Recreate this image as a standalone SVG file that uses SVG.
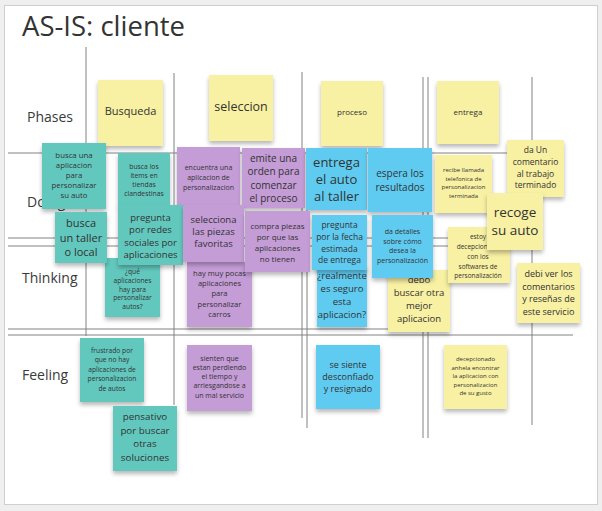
<svg xmlns="http://www.w3.org/2000/svg" width="602" height="511" viewBox="0 0 602 511">
  <defs>
    <filter id="sh" x="-20%" y="-20%" width="140%" height="150%">
      <feDropShadow dx="0" dy="3" stdDeviation="2" flood-color="#000" flood-opacity="0.28"/>
    </filter>
    <style>
      .note rect { filter: url(#sh); }
      .y { fill: #f8f0a2; }
      .t { fill: #62c8be; }
      .p { fill: #c49cd6; }
      .b { fill: #5fcbf1; }
      text { font-family: "Open Sans", "Noto Sans", "DejaVu Sans", sans-serif; fill: #333; }
      .note text { text-anchor: middle; }
      .row { font-size: 14px; fill: #3a3a3a; }
      .grid line { stroke: #828282; stroke-width: 1; }
    </style>
  </defs>

  <!-- board background and frame -->
  <rect x="0" y="0" width="602" height="511" fill="#efefef"/>
  <rect x="4.5" y="5.5" width="593" height="499" fill="#ffffff" stroke="#cfcfcf"/>

  <text x="22" y="36" font-size="27.5" fill="#222">AS-IS: cliente</text>

  <!-- swimlane grid -->
  <g id="grid" class="grid">
    <line x1="8" y1="153" x2="540" y2="153"/>
    <line x1="8" y1="238" x2="520" y2="238"/>
    <line x1="8" y1="246" x2="520" y2="246"/>
    <line x1="8" y1="329" x2="430" y2="329"/>
    <line x1="8" y1="335" x2="573" y2="335"/>
    <line x1="86" y1="47" x2="86" y2="336"/>
    <line x1="174" y1="73" x2="174" y2="405"/>
    <line x1="302" y1="72" x2="302" y2="418"/>
    <line x1="307" y1="150" x2="307" y2="428"/>
    <line x1="423" y1="77" x2="423" y2="438"/>
    <line x1="428" y1="77" x2="428" y2="438"/>
    <line x1="532" y1="77" x2="532" y2="425"/>
  </g>

  <!-- row labels -->
  <g id="labels">
    <text class="row" x="27" y="122">Phases</text>
    <text class="row" x="27" y="207">Doing</text>
    <text class="row" x="22" y="283">Thinking</text>
    <text class="row" x="22" y="380">Feeling</text>
  </g>

  <!-- phases -->
  <g id="ph-busqueda" class="note"><rect class="y" x="98" y="80" width="65" height="66"/>
    <text font-size="11"><tspan x="130.5" y="115">Busqueda</tspan></text></g>
  <g id="ph-seleccion" class="note"><rect class="y" x="209" y="75" width="64" height="66"/>
    <text font-size="12.5"><tspan x="241" y="111">seleccion</tspan></text></g>
  <g id="ph-proceso" class="note"><rect class="y" x="321" y="81" width="62" height="65"/>
    <text font-size="8"><tspan x="352" y="115">proceso</tspan></text></g>
  <g id="ph-entrega" class="note"><rect class="y" x="437" y="81" width="62" height="63"/>
    <text font-size="8"><tspan x="468" y="115">entrega</tspan></text></g>

  <g id="do-comentario" class="note"><rect class="y" x="507" y="140" width="57" height="57"/>
    <text font-size="8.5"><tspan x="535.5" y="153">da Un</tspan><tspan x="535.5" y="165">comentario</tspan><tspan x="535.5" y="176.5">al trabajo</tspan><tspan x="535.5" y="188">terminado</tspan></text></g>

  <!-- thinking (partly under doing notes) -->
  <g id="th-que" class="note"><rect class="t" x="105" y="258" width="55" height="59"/>
    <text font-size="6.7"><tspan x="132.5" y="274">¿qué</tspan><tspan x="132.5" y="283">aplicaciones</tspan><tspan x="132.5" y="291.7">hay para</tspan><tspan x="132.5" y="300.4">personalizar</tspan><tspan x="132.5" y="309">autos?</tspan></text></g>
  <g id="th-pocas" class="note"><rect class="p" x="187" y="262" width="65" height="65"/>
    <text font-size="7.6"><tspan x="219.5" y="276">hay muy pocas</tspan><tspan x="219.5" y="286">aplicaciones</tspan><tspan x="219.5" y="296">para</tspan><tspan x="219.5" y="306.5">personalizar</tspan><tspan x="219.5" y="317">carros</tspan></text></g>
  <g id="th-seguro" class="note"><rect class="b" x="317" y="265" width="50" height="62"/>
    <text font-size="9.5"><tspan x="342" y="279">¿realmente</tspan><tspan x="342" y="292">es seguro</tspan><tspan x="342" y="305">esta</tspan><tspan x="342" y="317.5">aplicacion?</tspan></text></g>
  <g id="th-otra" class="note"><rect class="y" x="388" y="270" width="62" height="62"/>
    <text font-size="9.5"><tspan x="419" y="283">debo</tspan><tspan x="419" y="296">buscar otra</tspan><tspan x="419" y="309">mejor</tspan><tspan x="419" y="322">aplicacion</tspan></text></g>
  <g id="th-decepcion" class="note"><rect class="y" x="448" y="227" width="62" height="56"/>
    <text font-size="6.5"><tspan x="478" y="239">estoy</tspan><tspan x="478" y="249">decepcionado</tspan><tspan x="478" y="259">con los</tspan><tspan x="478" y="268.5">softwares de</tspan><tspan x="478" y="278">personalización</tspan></text></g>
  <g id="th-resenas" class="note"><rect class="y" x="517" y="263" width="63" height="60"/>
    <text font-size="9"><tspan x="548.5" y="277">debi ver los</tspan><tspan x="548.5" y="289.5">comentarios</tspan><tspan x="548.5" y="302">y reseñas de</tspan><tspan x="548.5" y="314.5">este servicio</tspan></text></g>

  <!-- doing -->
  <g id="do-busca-app" class="note"><rect class="t" x="42" y="143" width="64" height="66"/>
    <text font-size="7.8"><tspan x="74" y="158">busca una</tspan><tspan x="74" y="168">aplicacion</tspan><tspan x="74" y="178">para</tspan><tspan x="74" y="188">personalizar</tspan><tspan x="74" y="198">su auto</tspan></text></g>
  <g id="do-items" class="note"><rect class="t" x="118" y="153" width="52" height="53"/>
    <text font-size="6.8"><tspan x="144" y="169">busca los</tspan><tspan x="144" y="178">items en</tspan><tspan x="144" y="187">tiendas</tspan><tspan x="144" y="196">clandestinas</tspan></text></g>
  <g id="do-encuentra" class="note"><rect class="p" x="177" y="147" width="63" height="66"/>
    <text font-size="7"><tspan x="208.5" y="170">encuentra una</tspan><tspan x="208.5" y="180">aplicacion de</tspan><tspan x="208.5" y="190">personalizacion</tspan></text></g>
  <g id="do-orden" class="note"><rect class="p" x="242" y="148" width="63" height="60"/>
    <text font-size="10"><tspan x="273.5" y="161.5">emite una</tspan><tspan x="273.5" y="175">orden para</tspan><tspan x="273.5" y="188.5">comenzar</tspan><tspan x="273.5" y="201.5">el proceso</tspan></text></g>
  <g id="do-entrega" class="note"><rect class="b" x="306" y="148" width="61" height="62"/>
    <text font-size="13"><tspan x="336.5" y="167">entrega</tspan><tspan x="336.5" y="184">el auto</tspan><tspan x="336.5" y="201">al taller</tspan></text></g>
  <g id="do-espera" class="note"><rect class="b" x="368" y="148" width="64" height="64"/>
    <text font-size="10"><tspan x="400" y="176.5">espera los</tspan><tspan x="400" y="190.5">resultados</tspan></text></g>
  <g id="do-llamada" class="note"><rect class="y" x="435" y="155" width="57" height="58"/>
    <text font-size="6"><tspan x="463.5" y="172">recibe llamada</tspan><tspan x="463.5" y="180.5">telefonica de</tspan><tspan x="463.5" y="189">personalizacion</tspan><tspan x="463.5" y="198">terminada</tspan></text></g>
  <g id="do-taller" class="note"><rect class="t" x="55" y="212" width="52" height="51"/>
    <text font-size="11"><tspan x="81" y="227">busca</tspan><tspan x="81" y="241.5">un taller</tspan><tspan x="81" y="256">o local</tspan></text></g>
  <g id="do-redes" class="note"><rect class="t" x="118" y="205" width="65" height="60"/>
    <text font-size="9.5"><tspan x="150.5" y="221">pregunta</tspan><tspan x="150.5" y="233">por redes</tspan><tspan x="150.5" y="246">sociales por</tspan><tspan x="150.5" y="258">aplicaciones</tspan></text></g>
  <g id="do-piezas" class="note"><rect class="p" x="183" y="205" width="61" height="57"/>
    <text font-size="9.5"><tspan x="213.5" y="223">selecciona</tspan><tspan x="213.5" y="235">las piezas</tspan><tspan x="213.5" y="247">favoritas</tspan></text></g>
  <g id="do-compra" class="note"><rect class="p" x="245" y="211" width="65" height="61"/>
    <text font-size="8"><tspan x="277.5" y="229">compra piezas</tspan><tspan x="277.5" y="240">por que las</tspan><tspan x="277.5" y="251">aplicaciones</tspan><tspan x="277.5" y="261.5">no tienen</tspan></text></g>
  <g id="do-fecha" class="note"><rect class="b" x="312" y="215" width="55" height="55"/>
    <text font-size="8.5"><tspan x="339.5" y="228">pregunta</tspan><tspan x="339.5" y="240">por la fecha</tspan><tspan x="339.5" y="251.5">estimada</tspan><tspan x="339.5" y="263">de entrega</tspan></text></g>
  <g id="do-detalles" class="note"><rect class="b" x="372" y="215" width="61" height="63"/>
    <text font-size="7"><tspan x="402.5" y="234">da detalles</tspan><tspan x="402.5" y="243.5">sobre cómo</tspan><tspan x="402.5" y="253">desea la</tspan><tspan x="402.5" y="262.5">personalización</tspan></text></g>
  <g id="do-recoge" class="note"><rect class="y" x="487" y="193" width="56" height="57"/>
    <text font-size="13.5"><tspan x="515" y="216.5">recoge</tspan><tspan x="515" y="234.5">su auto</tspan></text></g>

  <!-- feeling -->
  <g id="fe-frustrado" class="note"><rect class="t" x="80" y="338" width="64" height="64"/>
    <text font-size="6.7"><tspan x="112" y="353">frustrado por</tspan><tspan x="112" y="362">que no hay</tspan><tspan x="112" y="371.5">aplicaciones de</tspan><tspan x="112" y="381">personalizacion</tspan><tspan x="112" y="391">de autos</tspan></text></g>
  <g id="fe-pensativo" class="note"><rect class="t" x="113" y="406" width="64" height="65"/>
    <text font-size="9.8"><tspan x="145" y="420">pensativo</tspan><tspan x="145" y="433.5">por buscar</tspan><tspan x="145" y="447">otras</tspan><tspan x="145" y="460.5">soluciones</tspan></text></g>
  <g id="fe-tiempo" class="note"><rect class="p" x="187" y="345" width="65" height="66"/>
    <text font-size="7"><tspan x="219.5" y="360.5">sienten que</tspan><tspan x="219.5" y="369.5">estan perdiendo</tspan><tspan x="219.5" y="379">el tiempo y</tspan><tspan x="219.5" y="388">arriesgandose a</tspan><tspan x="219.5" y="398">un mal servicio</tspan></text></g>
  <g id="fe-desconfiado" class="note"><rect class="b" x="316" y="345" width="64" height="64"/>
    <text font-size="9"><tspan x="348" y="367.5">se siente</tspan><tspan x="348" y="379.5">desconfiado</tspan><tspan x="348" y="392">y resignado</tspan></text></g>
  <g id="fe-anhela" class="note"><rect class="y" x="444" y="345" width="63" height="64"/>
    <text font-size="6"><tspan x="475.5" y="361">decepcionado</tspan><tspan x="475.5" y="370">anhela encontrar</tspan><tspan x="475.5" y="378">la aplicacion con</tspan><tspan x="475.5" y="386.5">personalizacion</tspan><tspan x="475.5" y="395">de su gusto</tspan></text></g>
</svg>
